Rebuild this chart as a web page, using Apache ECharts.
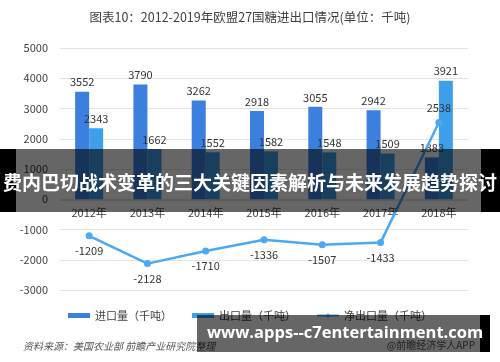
<!DOCTYPE html>
<html>
<head>
<meta charset="utf-8">
<script src="https://cdn.jsdelivr.net/npm/echarts@6/dist/echarts.min.js"></script>
<style>
html,body{margin:0;padding:0;background:#fff;}
#c{width:500px;height:362px;}
</style>
</head>
<body>
<div id="c"></div>
<script>
var categories = ['2012年','2013年','2014年','2015年','2016年','2017年','2018年'];
var importVals = [3552, 3790, 3262, 2918, 3055, 2942, 1383];
var exportVals = [2343, 1662, 1552, 1582, 1548, 1509, 3921];
var netVals = [-1209, -2128, -1710, -1336, -1507, -1433, 2538];
var yTicks = {min: -3000, max: 5000, interval: 1000};

var FONT = "'Noto Sans CJK SC', 'Noto Sans', sans-serif";
var chart = echarts.init(document.getElementById('c'));
var lineData = netVals.map(function(v){
  return v >= 0 ? {value: v, label: {position: 'top'}} : v;
});
chart.setOption({
  animation: false,
  textStyle: {fontFamily: FONT},
  title: {
    text: '图表10：2012-2019年欧盟27国糖进出口情况(单位：千吨)',
    left: 'center', top: 6,
    textStyle: {fontSize: 12.5, fontWeight: 'normal', color: '#404040', fontFamily: FONT}
  },
  grid: {left: 60, right: 32, top: 48, bottom: 72},
  legend: {
    top: 305, left: 'center',
    itemWidth: 22, itemHeight: 5, itemGap: 20,
    textStyle: {fontSize: 11, color: '#404040'},
    data: [
      {name: '进口量（千吨）', icon: 'rect'},
      {name: '出口量（千吨）', icon: 'rect'},
      {name: '净出口量（千吨）'}
    ]
  },
  xAxis: {
    type: 'category', data: categories,
    position: 'bottom', offset: -90,
    axisLine: {onZero: false, lineStyle: {color: '#e3e3e3'}},
    axisTick: {show: false},
    axisLabel: {color: '#404040', fontSize: 11, margin: 7}
  },
  yAxis: {
    type: 'value', min: yTicks.min, max: yTicks.max, interval: yTicks.interval,
    axisLine: {show: false}, axisTick: {show: false},
    axisLabel: {color: '#404040', fontSize: 11, margin: 12, formatter: function(v){ return String(v); }},
    splitLine: {lineStyle: {color: '#e3e3e3'}}
  },
  series: [
    {
      name: '进口量（千吨）', type: 'bar', data: importVals,
      barWidth: 14, barGap: '0%',
      itemStyle: {color: '#3b7fdf'},
      label: {show: true, position: 'top', color: '#333', fontSize: 11, distance: 4}
    },
    {
      name: '出口量（千吨）', type: 'bar', data: exportVals,
      barWidth: 14, barGap: '0%',
      itemStyle: {color: '#3d9eea'},
      label: {show: true, position: 'top', color: '#333', fontSize: 11, distance: 4}
    },
    {
      name: '净出口量（千吨）', type: 'line', data: lineData,
      symbol: 'circle', symbolSize: 7,
      lineStyle: {color: '#4aa9f2', width: 2.5},
      itemStyle: {color: '#4aa9f2'},
      label: {
        show: true, color: '#333', fontSize: 11,
        position: 'bottom', distance: 6
      },
      z: 5
    }
  ],
  graphic: [
    {type: 'text', right: 25, top: 340, z: 50,
      style: {text: '@前瞻经济学人APP', fill: '#555', font: '10px ' + FONT}},
    {type: 'text', left: 23, top: 341, z: 50,
      style: {text: '资料来源：美国农业部 前瞻产业研究院整理', fill: '#555', font: 'italic 10px ' + FONT}},
    {type: 'rect', left: 0, top: 149, z: 100, shape: {width: 16, height: 63}, style: {fill: '#000'}},
    {type: 'rect', left: 16, top: 149, z: 100, shape: {width: 465, height: 63}, style: {fill: 'rgba(0,0,0,0.6)'}},
    {type: 'rect', left: 481, top: 149, z: 100, shape: {width: 19, height: 63}, style: {fill: '#000'}},
    {type: 'text', left: 'center', top: 173, z: 101,
      style: {text: '费内巴切战术变革的三大关键因素解析与未来发展趋势探讨', fill: '#fff', font: 'bold 19px ' + FONT}},
    {type: 'rect', left: 197, top: 315, z: 100, shape: {width: 283, height: 37}, style: {fill: 'rgba(0,0,0,0.6)'}},
    {type: 'rect', left: 480, top: 315, z: 100, shape: {width: 10, height: 37}, style: {fill: '#000'}},
    {type: 'text', left: 207, top: 325, z: 101,
      style: {text: 'www.apps--c7entertainment.com', fill: '#fff', font: 'bold 16.5px "Open Sans", "DejaVu Sans", sans-serif'}}
  ]
});
</script>
</body>
</html>
